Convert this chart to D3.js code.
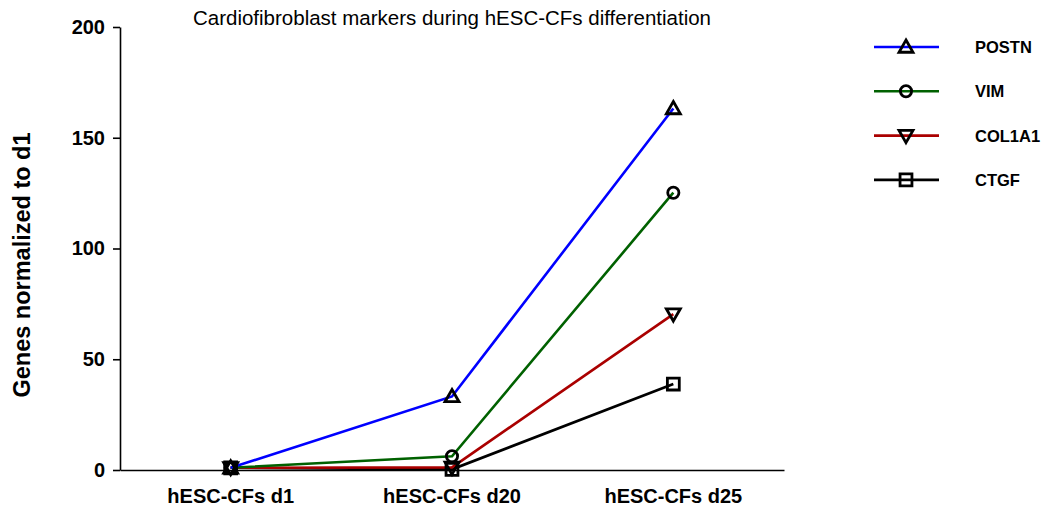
<!DOCTYPE html>
<html>
<head>
<meta charset="utf-8">
<script src="https://cdn.jsdelivr.net/npm/d3@7/dist/d3.min.js"></script>
<style>
  html, body { margin: 0; padding: 0; background: #fff; }
  svg { display: block; font-family: Arial, "Liberation Sans", sans-serif; }
</style>
</head>
<body>
<svg id="chart" width="1041" height="509"></svg>
<script>
// Time points and marker genes
const categories = ["hESC-CFs d1", "hESC-CFs d20", "hESC-CFs d25"];
const seriesNames = ["POSTN", "VIM", "COL1A1", "CTGF"];
const postn  = [1, 33.2, 163.2];
const vim    = [1, 6.2, 125.2];
const col1a1 = [1, 1.2, 70.4];
const ctgf   = [1, 0.3, 38.8];
const yTicks = [0, 50, 100, 150, 200];

const seriesColors = ["#0000ff", "#006100", "#aa0000", "#000000"];
const seriesSymbols = ["triangleUp", "circle", "triangleDown", "square"];
const seriesValues = [postn, vim, col1a1, ctgf];

const FONT = "Arial, 'Liberation Sans', sans-serif";
const svg = d3.select("#chart");
const plot = { left: 120, right: 784, top: 27, bottom: 470 };

const x = d3.scaleBand().domain(categories).range([plot.left, plot.right]);
const y = d3.scaleLinear().domain([0, 200]).range([plot.bottom, plot.top]);
const cx = c => x(c) + x.bandwidth() / 2;

// Title
svg.append("text")
  .attr("x", 452).attr("y", 25)
  .attr("text-anchor", "middle")
  .attr("font-size", 20.5)
  .text("Cardiofibroblast markers during hESC-CFs differentiation");

// Y axis
const yAxis = svg.append("g")
  .attr("transform", `translate(${plot.left},0)`)
  .call(d3.axisLeft(y).tickValues(yTicks).tickSize(7).tickPadding(8).tickSizeOuter(0));
yAxis.attr("font-family", FONT).attr("font-size", 20);
yAxis.select(".domain").attr("stroke", "#000").attr("stroke-width", 1.6);
yAxis.selectAll(".tick line").attr("stroke", "#000").attr("stroke-width", 1.6);
yAxis.selectAll(".tick text")
  .attr("font-size", 20).attr("font-weight", "bold").attr("fill", "#000");

// X axis (no tick marks)
const xAxis = svg.append("g")
  .attr("transform", `translate(0,${plot.bottom})`)
  .call(d3.axisBottom(x).tickSize(0).tickPadding(19).tickSizeOuter(0));
xAxis.attr("font-family", FONT).attr("font-size", 20);
xAxis.select(".domain").attr("stroke", "#000").attr("stroke-width", 1.6);
xAxis.selectAll(".tick text")
  .attr("font-size", 20).attr("font-weight", "bold").attr("fill", "#000");

// Y axis title
svg.append("text")
  .attr("transform", "translate(30,265) rotate(-90)")
  .attr("text-anchor", "middle")
  .attr("font-size", 23.5).attr("font-weight", "bold")
  .text("Genes normalized to d1");

// Marker drawing
function marker(g, type, px, py) {
  const s = 7;
  let path;
  if (type === "triangleUp") {
    path = `M${px},${py - s * 1.0}L${px + s * 1.0},${py + s * 0.75}L${px - s * 1.0},${py + s * 0.75}Z`;
  } else if (type === "triangleDown") {
    path = `M${px},${py + s * 1.0}L${px + s * 1.0},${py - s * 0.75}L${px - s * 1.0},${py - s * 0.75}Z`;
  } else if (type === "square") {
    path = `M${px - s * 0.85},${py - s * 0.85}h${s * 1.7}v${s * 1.7}h${-s * 1.7}Z`;
  }
  if (type === "circle") {
    g.append("circle").attr("cx", px).attr("cy", py).attr("r", s * 0.8)
      .attr("fill", "none").attr("stroke", "#000").attr("stroke-width", 2.8);
  } else {
    g.append("path").attr("d", path)
      .attr("fill", "none").attr("stroke", "#000").attr("stroke-width", 2.8)
      .attr("stroke-linejoin", "miter");
  }
}

// Lines (drawn in reverse so POSTN is on top)
const line = d3.line().x((d, i) => cx(categories[i])).y(d => y(d));
const linesG = svg.append("g");
for (let k = seriesNames.length - 1; k >= 0; k--) {
  linesG.append("path")
    .datum(seriesValues[k])
    .attr("d", line)
    .attr("fill", "none")
    .attr("stroke", seriesColors[k])
    .attr("stroke-width", 2.6);
}
const markersG = svg.append("g");
for (let k = seriesNames.length - 1; k >= 0; k--) {
  seriesValues[k].forEach((v, i) => marker(markersG, seriesSymbols[k], cx(categories[i]), y(v)));
}

// Legend
const legend = svg.append("g");
seriesNames.forEach((name, k) => {
  const ly = 47 + k * 44.3;
  legend.append("line")
    .attr("x1", 874).attr("x2", 939).attr("y1", ly).attr("y2", ly)
    .attr("stroke", seriesColors[k]).attr("stroke-width", 2.6);
  marker(legend, seriesSymbols[k], 906, ly);
  legend.append("text")
    .attr("x", 975).attr("y", ly + 6)
    .attr("font-size", 16.5).attr("font-weight", "bold")
    .text(name);
});
</script>
</body>
</html>
